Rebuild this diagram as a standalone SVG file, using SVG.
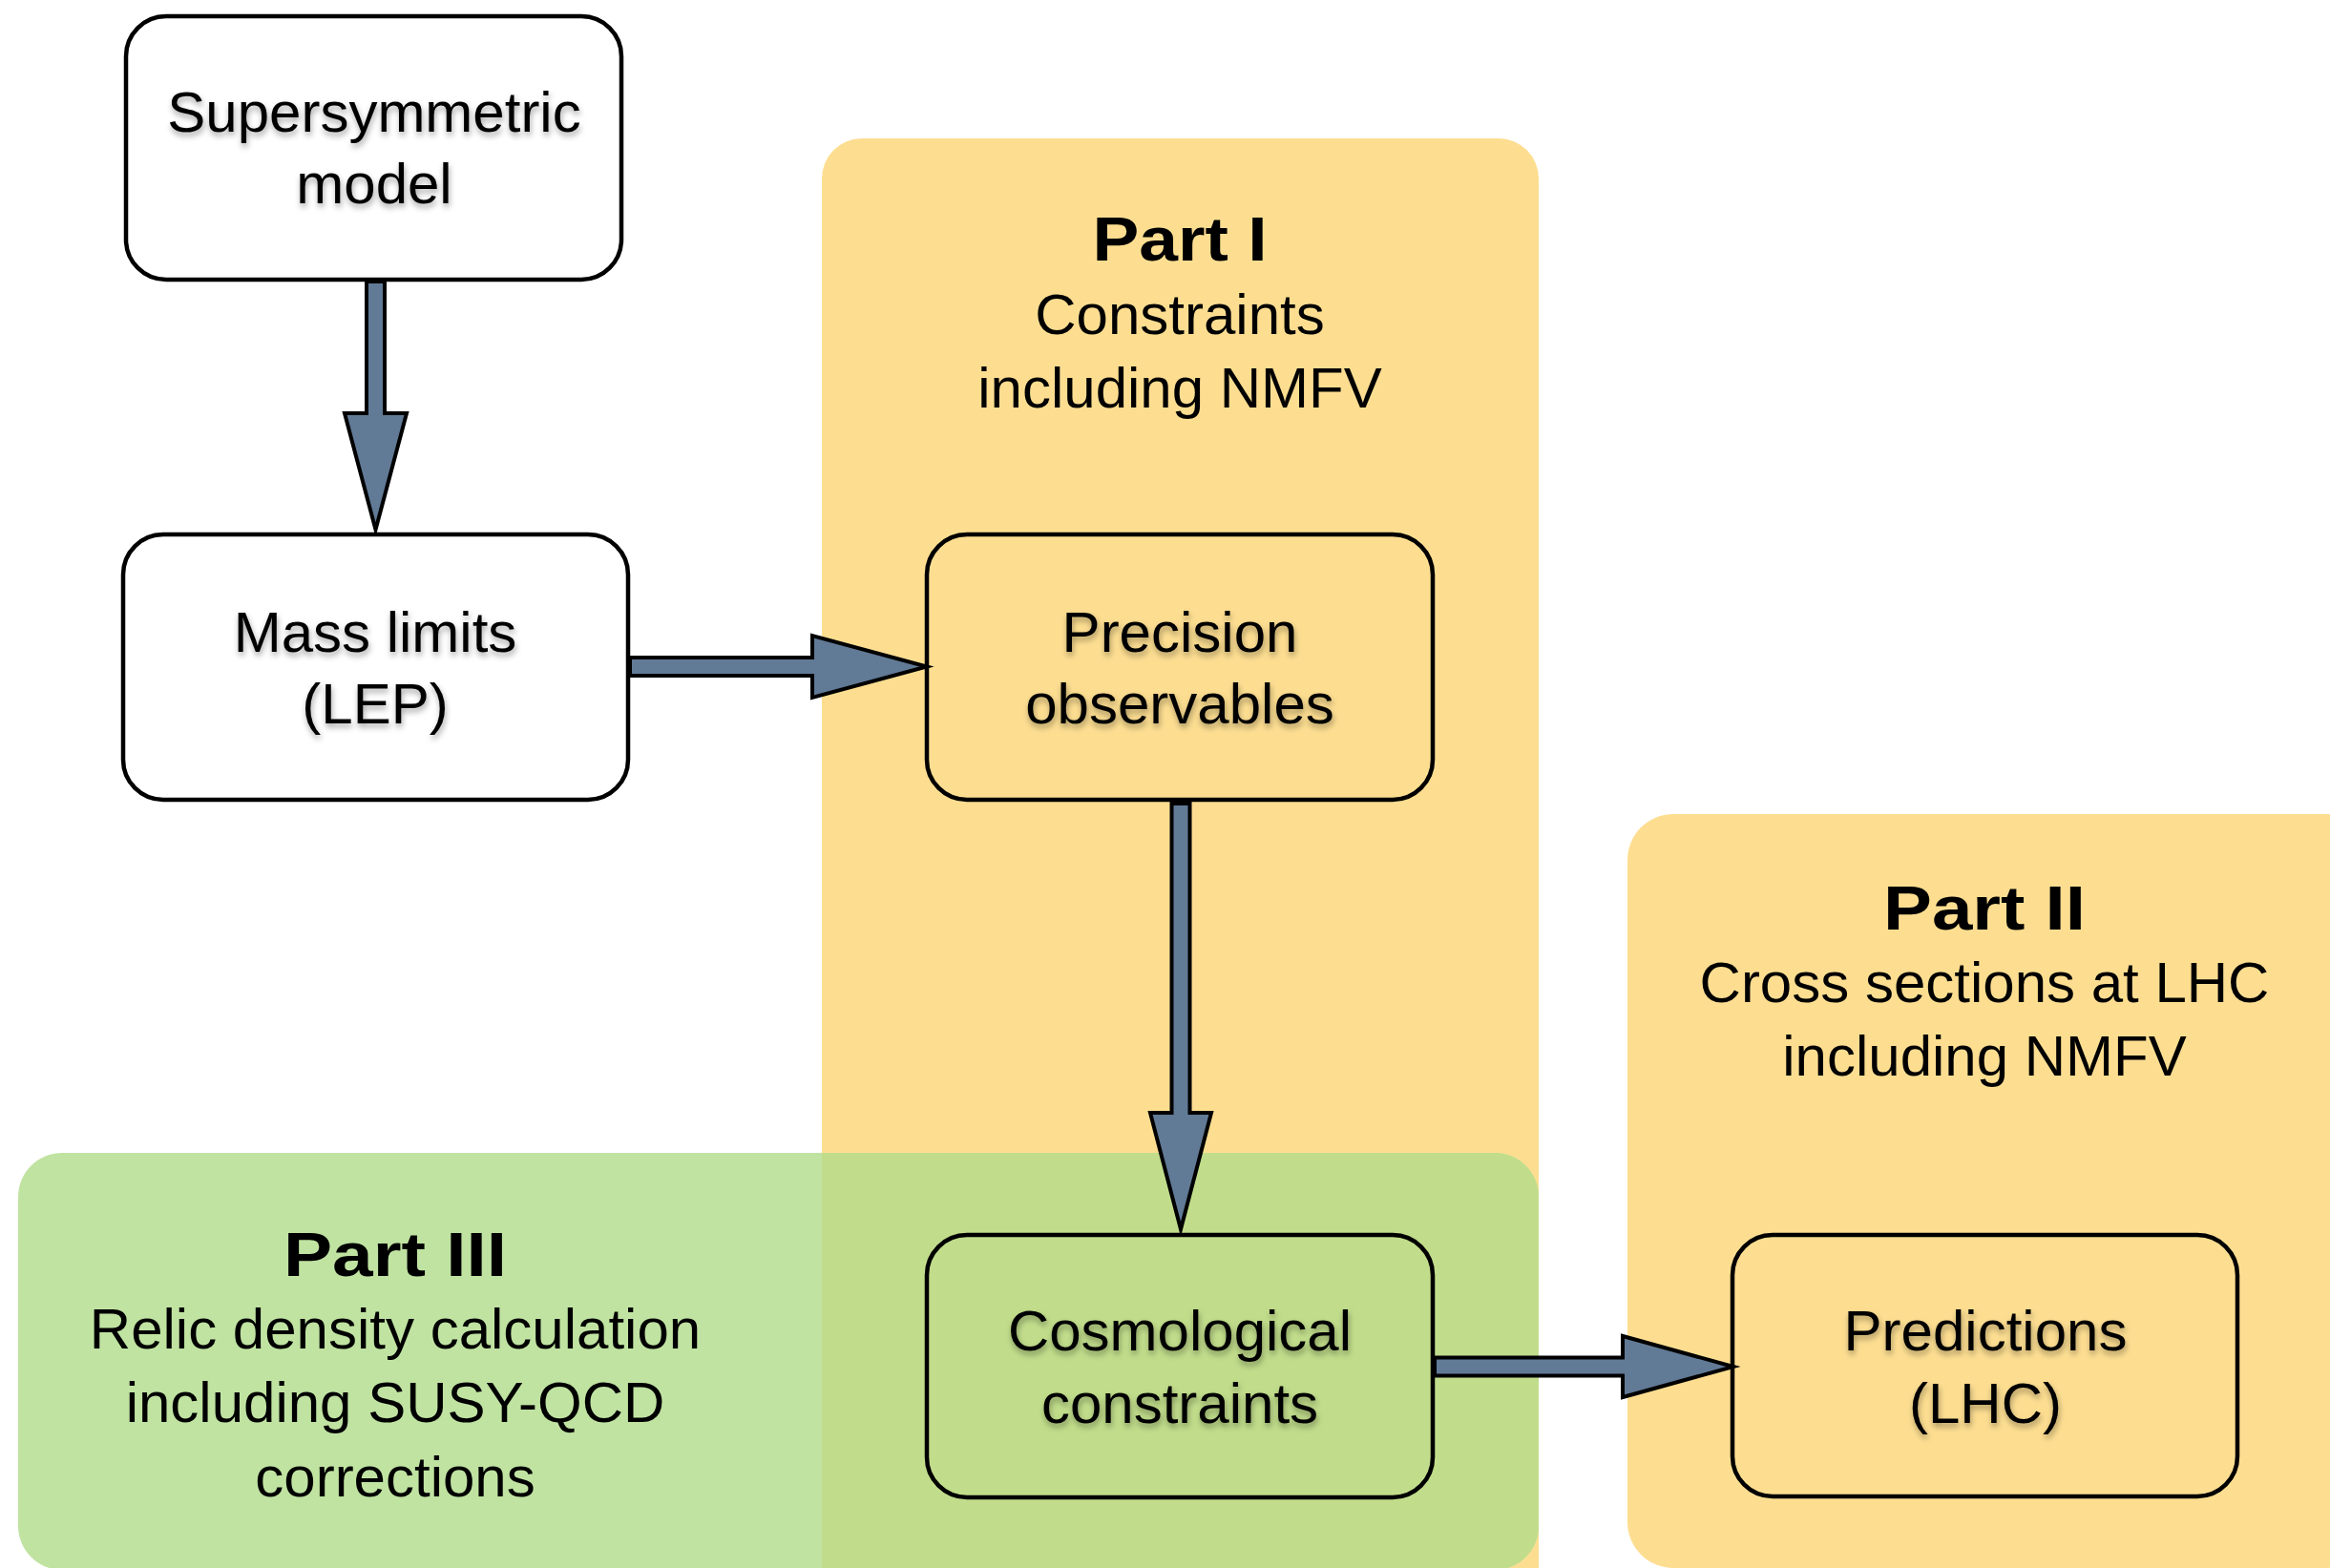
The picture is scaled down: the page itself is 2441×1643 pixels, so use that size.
<svg xmlns="http://www.w3.org/2000/svg" width="2441" height="1643" viewBox="0 0 2441 1643">
<style>
.region-y{fill:#fdde91}
.region-g{fill:#c0e3a2}
.overlap{fill:#c1dd8b}
.node{stroke:#000;stroke-width:4.5}
.ntext{font-family:"Liberation Sans",Arial,sans-serif;font-size:60px;fill:#000;text-anchor:middle;filter:url(#ts)}
.ptitle{font-family:"Liberation Sans",Arial,sans-serif;font-size:64px;font-weight:bold;fill:#000;text-anchor:middle}
.pdesc{font-family:"Liberation Sans",Arial,sans-serif;font-size:60px;fill:#000;text-anchor:middle}
.arrow{fill:#617a96;stroke:#000;stroke-width:4;stroke-linejoin:miter}
</style>
<defs>
<filter id="ts" x="-10%" y="-30%" width="120%" height="160%">
<feDropShadow dx="1" dy="4" stdDeviation="3" flood-color="#000" flood-opacity="0.35"/>
</filter>
<clipPath id="p1clip"><rect x="861" y="145" width="751" height="1540" rx="42"/></clipPath>
</defs>
<rect width="2441" height="1643" fill="#fff"/>
<g id="regions">
<g id="part1">
<rect class="region-y" x="861" y="145" width="751" height="1540" rx="42"/>
<text class="ptitle" x="1236" y="273" textLength="183" lengthAdjust="spacingAndGlyphs">Part I</text>
<text class="pdesc" x="1236" y="350">Constraints</text>
<text class="pdesc" x="1236" y="427">including NMFV</text>
</g>
<g id="part2">
<rect class="region-y" x="1705" y="853" width="780" height="790" rx="48"/>
<text class="ptitle" x="2079" y="974" textLength="212" lengthAdjust="spacingAndGlyphs">Part II</text>
<text class="pdesc" x="2079" y="1050">Cross sections at LHC</text>
<text class="pdesc" x="2079" y="1127">including NMFV</text>
</g>
<g id="part3">
<rect class="region-g" x="19" y="1208" width="1593" height="437" rx="46"/>
<rect class="overlap" x="19" y="1208" width="1593" height="437" rx="46" clip-path="url(#p1clip)"/>
<text class="ptitle" x="414" y="1337" textLength="234" lengthAdjust="spacingAndGlyphs">Part III</text>
<text class="pdesc" x="414" y="1413">Relic density calculation</text>
<text class="pdesc" x="414" y="1490">including SUSY-QCD</text>
<text class="pdesc" x="414" y="1568">corrections</text>
</g>
</g>
<g id="connectors">
<polygon class="arrow" points="384,295 403,295 403,433 426,433 393.5,555 361,433 384,433"/>
<polygon class="arrow" points="660,689 851,689 851,666 971,698.5 851,731 851,708 660,708"/>
<polygon class="arrow" points="1227.5,842 1246.5,842 1246.5,1166 1269,1166 1237,1288 1205,1166 1227.5,1166"/>
<polygon class="arrow" points="1503,1422.5 1700,1422.5 1700,1400 1816,1432 1700,1464 1700,1441.5 1503,1441.5"/>
</g>
<g id="node-susy">
<rect class="node" x="132" y="17" width="519" height="276" rx="42" fill="#fff"/>
<text class="ntext" x="392" y="138">Supersymmetric</text>
<text class="ntext" x="392" y="213">model</text>
</g>
<g id="node-mass">
<rect class="node" x="129" y="560" width="529" height="278" rx="42" fill="#fff"/>
<text class="ntext" x="393" y="683">Mass limits</text>
<text class="ntext" x="393" y="758">(LEP)</text>
</g>
<g id="node-precision">
<rect class="node" x="971" y="560" width="530" height="278" rx="42" fill="none"/>
<text class="ntext" x="1236" y="683">Precision</text>
<text class="ntext" x="1236" y="758">observables</text>
</g>
<g id="node-cosmo">
<rect class="node" x="971" y="1294" width="530" height="275" rx="42" fill="none"/>
<text class="ntext" x="1236" y="1415">Cosmological</text>
<text class="ntext" x="1236" y="1491">constraints</text>
</g>
<g id="node-predictions">
<rect class="node" x="1815" y="1294" width="529" height="274" rx="42" fill="none"/>
<text class="ntext" x="2080" y="1415">Predictions</text>
<text class="ntext" x="2080" y="1491">(LHC)</text>
</g>
</svg>
